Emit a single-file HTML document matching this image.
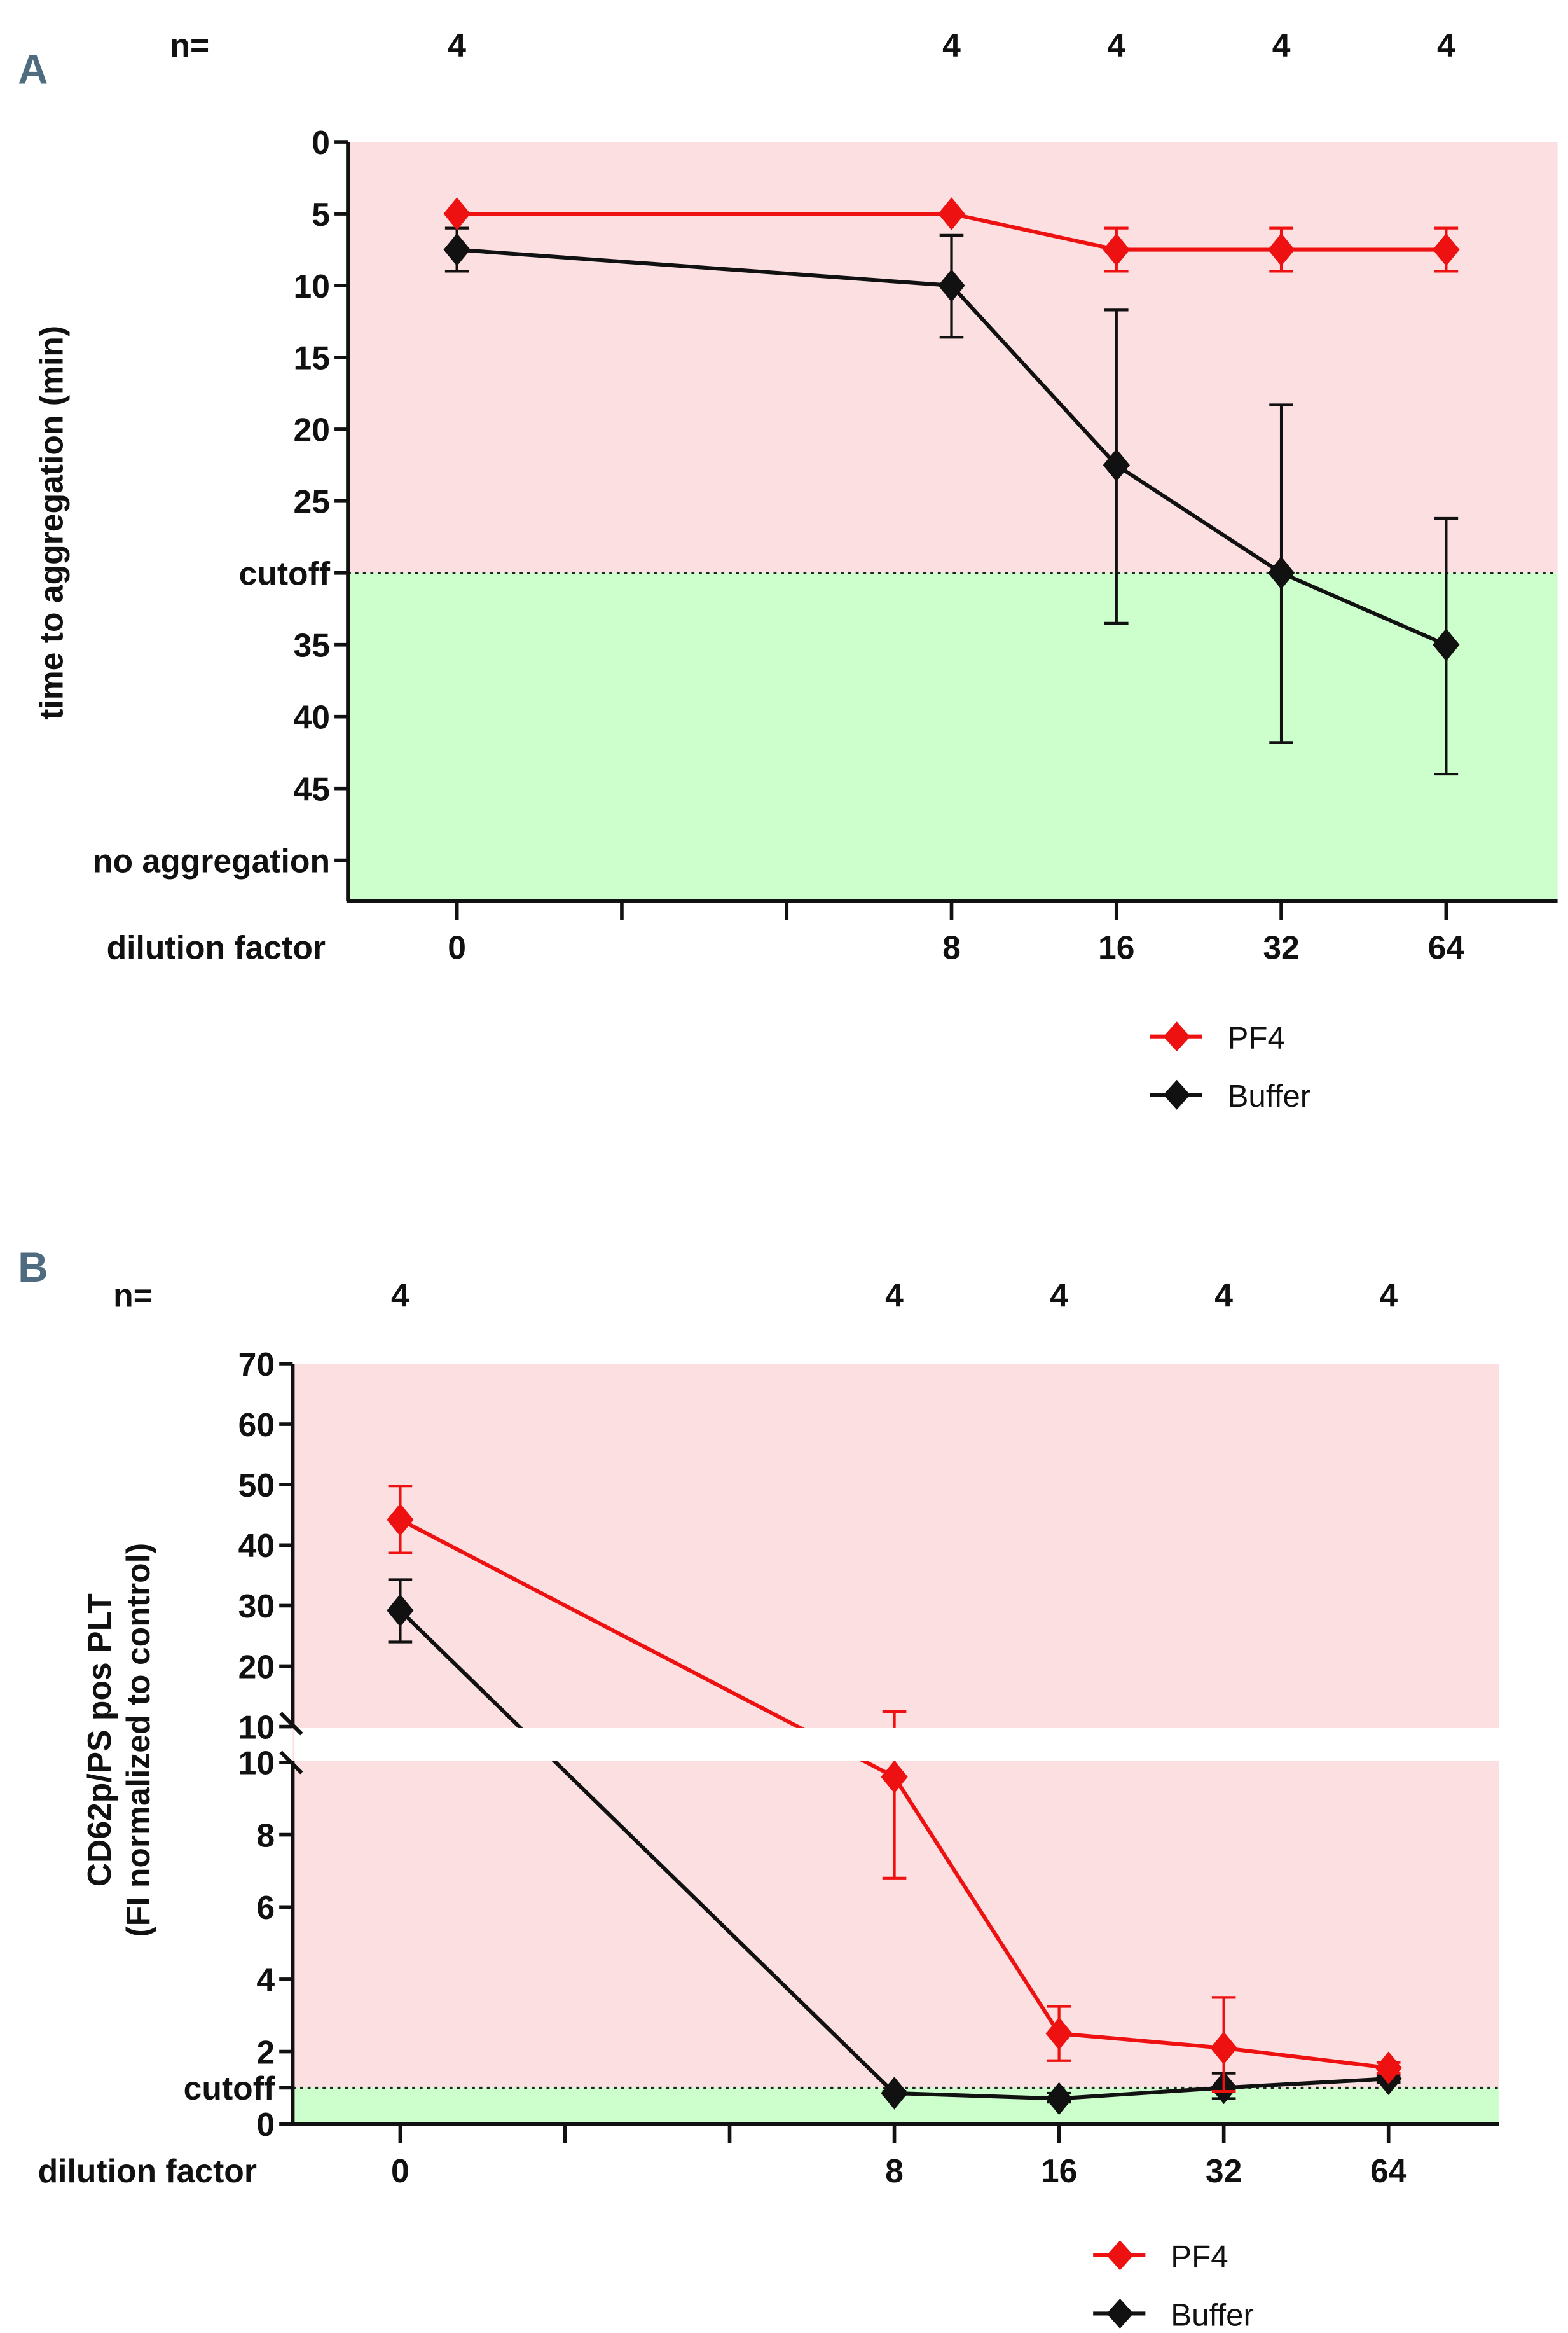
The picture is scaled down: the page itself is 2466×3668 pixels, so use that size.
<!DOCTYPE html>
<html><head><meta charset="utf-8">
<style>
html,body{margin:0;padding:0;background:#fff;}
svg{display:block;}
text{font-family:"Liberation Sans Narrow","Liberation Sans",sans-serif;}
.t{font-weight:bold;font-size:22px;fill:#111;}
.lg{font-family:"Liberation Sans",sans-serif;font-size:21px;fill:#111;}
</style></head>
<body>
<svg id="fig" width="2466" height="3668" viewBox="0 0 1050 1562" preserveAspectRatio="none" xmlns="http://www.w3.org/2000/svg">
  <text x="12" y="56" style="font-size:28px;font-weight:bold;fill:#4f6b80">A</text>
  <text x="12" y="858" style="font-size:28px;font-weight:bold;fill:#4f6b80">B</text>
  <text class="t" x="42" y="350" transform="rotate(-90 42 350)" text-anchor="middle" style="font-family:'Liberation Sans',sans-serif;font-size:22px">time to aggregation (min)</text>
  <text class="t" x="74" y="1165" transform="rotate(-90 74 1165)" text-anchor="middle" style="font-family:'Liberation Sans',sans-serif;font-size:22px">CD62p/PS pos PLT</text>
  <text class="t" x="100" y="1165" transform="rotate(-90 100 1165)" text-anchor="middle" style="font-family:'Liberation Sans',sans-serif;font-size:22px">(FI normalized to control)</text>
</svg>
<script>
const catLabels = ["0", "", "", "8", "16", "32", "64"];
const dataIdx = [0, 3, 4, 5, 6];
const nValues = ["4", "4", "4", "4", "4"];
// Panel A
const aPF4 = [5, 5, 7.5, 7.5, 7.5];
const aPF4Lo = [5, 5, 6, 6, 6];
const aPF4Hi = [5, 5, 9, 9, 9];
const aBuf = [7.5, 10, 22.5, 30, 35];
const aBufLo = [6, 6.5, 11.7, 18.3, 26.2];
const aBufHi = [9, 13.6, 33.5, 41.8, 44];
const aTicks = [0, 5, 10, 15, 20, 25, 30, 35, 40, 45, 50];
const aTickLabels = ["0", "5", "10", "15", "20", "25", "cutoff", "35", "40", "45", "no aggregation"];
const aCutoff = 30;
// Panel B
const bPF4 = [44.2, 9.6, 2.5, 2.1, 1.55];
const bPF4Lo = [38.7, 6.8, 1.75, 0.9, 1.4];
const bPF4Hi = [49.8, 12.5, 3.25, 3.5, 1.7];
const bBuf = [29.2, 0.85, 0.7, 1.0, 1.25];
const bBufLo = [24, 0.8, 0.6, 0.7, 1.15];
const bBufHi = [34.3, 0.9, 0.85, 1.4, 1.35];
const bTicksUpper = [10, 20, 30, 40, 50, 60, 70];
const bTicksLower = [0, 2, 4, 6, 8, 10];
const bCutoff = 1;

const NS = "http://www.w3.org/2000/svg";
const svg = document.getElementById("fig");
function mk(tag, attrs, parent) {
  const e = document.createElementNS(NS, tag);
  for (const k in attrs) e.setAttribute(k, attrs[k]);
  (parent || svg).appendChild(e);
  return e;
}
const RED = "#ee1111", BLK = "#111";

function drawPanel(p) {
  const g = mk("g", {});
  
  
  const pink = mk("rect", {x: p.x0, y: p.yTop, width: p.x1 - p.x0, height: p.ySc(p.cutoff) - p.yTop, fill: "#fcdfe0"}, g);
  
  
  const green = mk("rect", {x: p.x0, y: p.ySc(p.cutoff), width: p.x1 - p.x0, height: p.yBot - p.ySc(p.cutoff), fill: "#ccffcc"}, g);
  
  
  const cut = mk("line", {x1: p.x0, x2: p.x1, y1: p.ySc(p.cutoff), y2: p.ySc(p.cutoff), stroke: "#222", "stroke-width": 1.3, "stroke-dasharray": "2,3"}, g);
  
  
  const series = [
    {n: "buffer", v: p.buf, lo: p.bufLo, hi: p.bufHi, c: BLK},
    {n: "pf4", v: p.pf4, lo: p.pf4Lo, hi: p.pf4Hi, c: RED}
  ];
  series.forEach(s => {
    const pts = s.v.map((v, i) => p.xSc(dataIdx[i]) + "," + p.ySc(v)).join(" ");
    const pl = mk("polyline", {points: pts, fill: "none", stroke: s.c, "stroke-width": 2.6}, g);
    
    
    s.v.forEach((v, i) => {
      const cx = p.xSc(dataIdx[i]);
      if (s.hi[i] !== s.lo[i]) {
        const eb = mk("path", {d: `M${cx},${p.ySc(s.lo[i])}V${p.ySc(s.hi[i])}M${cx-8},${p.ySc(s.lo[i])}h16M${cx-8},${p.ySc(s.hi[i])}h16`, stroke: s.c, "stroke-width": 1.8, fill: "none"}, g);
        
        
      }
      const cy = p.ySc(v);
      const m = mk("path", {d: `M${cx},${cy-11}L${cx+9},${cy}L${cx},${cy+11}L${cx-9},${cy}Z`, fill: s.c}, g);
      
      
    });
  });
  if (p.gap) {
    const gp = mk("rect", {x: p.x0 + 1, y: p.gap[0], width: p.x1 - p.x0, height: p.gap[1] - p.gap[0], fill: "#fff"}, g);
    
    
  }
  const yax = mk("path", {d: p.gap ? `M${p.x0},${p.yTop}V${p.gap[0]}M${p.x0},${p.gap[1]}V${p.yBot}` : `M${p.x0},${p.yTop}V${p.yBot}`, stroke: BLK, "stroke-width": 2.6, fill: "none"}, g);
  
  
  if (p.gap) {
    const br = mk("path", {d: `M${p.x0-8},${p.gap[0]-10}L${p.x0+6},${p.gap[0]+4}M${p.x0-8},${p.gap[1]-6}L${p.x0+6},${p.gap[1]+8}`, stroke: BLK, "stroke-width": 2.6}, g);
    
    
  }
  const xax = mk("line", {x1: p.x0 - 1, x2: p.x1, y1: p.yBot, y2: p.yBot, stroke: BLK, "stroke-width": 2.6}, g);
  
  
  p.yTicks.forEach((t) => {
    const y = t.y;
    const tk = mk("line", {x1: p.x0 - 9, x2: p.x0, y1: y, y2: y, stroke: BLK, "stroke-width": 2.4}, g);
    
    
    const tl = mk("text", {x: p.x0 - 12, y: y + 8, "text-anchor": "end", class: "t"}, g);
    tl.textContent = t.label;
    
    
  });
  catLabels.forEach((c, i) => {
    const x = p.xSc(i);
    const tk = mk("line", {x1: x, x2: x, y1: p.yBot, y2: p.yBot + 13, stroke: BLK, "stroke-width": 2.4}, g);
    
    
    if (c) {
      const tl = mk("text", {x: x, y: p.yBot + 39, "text-anchor": "middle", class: "t"}, g);
      tl.textContent = c;
      
      
    }
  });
  const xt = mk("text", {x: p.xTitleX, y: p.yBot + 39, "text-anchor": "end", class: "t"}, g);
  xt.textContent = "dilution factor";
  
  
  const nl = mk("text", {x: p.nX, y: p.nY, "text-anchor": "middle", class: "t"}, g);
  nl.textContent = "n=";
  
  
  nValues.forEach((n, i) => {
    const t = mk("text", {x: p.xSc(dataIdx[i]), y: p.nY, "text-anchor": "middle", class: "t"}, g);
    t.textContent = n;
    
    
  });
  [["PF4", RED, 0], ["Buffer", BLK, 39]].forEach(([lbl, c, dy]) => {
    const y = p.legY + dy, x = p.legX;
    const ln = mk("line", {x1: x - 18, x2: x + 17, y1: y, y2: y, stroke: c, "stroke-width": 2.6}, g);
    
    
    const mkr = mk("path", {d: `M${x},${y-10}L${x+9},${y}L${x},${y+10}L${x-9},${y}Z`, fill: c}, g);
    
    
    const tx = mk("text", {x: x + 34, y: y + 8, class: "lg"}, g);
    tx.textContent = lbl;
    
    
  });
}

const aY = v => 95 + v * 9.62;
drawPanel({
  name: "panel-a-chart", x0: 233, x1: 1043, yTop: 95, yBot: 603,
  xSc: i => 306 + i * 110.4, ySc: aY, cutoff: aCutoff,
  pf4: aPF4, pf4Lo: aPF4Lo, pf4Hi: aPF4Hi, buf: aBuf, bufLo: aBufLo, bufHi: aBufHi,
  yTicks: aTicks.map((t, i) => ({y: aY(t), label: aTickLabels[i]})),
  xTitleX: 218, nX: 127, nY: 38, legX: 788, legY: 694
});
const bY = v => v >= 10 ? 1156 - (v - 10) * 4.05 : 1422 - v * 24.2;
drawPanel({
  name: "panel-b-chart", x0: 196, x1: 1004, yTop: 913, yBot: 1422,
  xSc: i => 268 + i * 110.3, ySc: bY, cutoff: bCutoff, gap: [1157, 1179],
  pf4: bPF4, pf4Lo: bPF4Lo, pf4Hi: bPF4Hi, buf: bBuf, bufLo: bBufLo, bufHi: bBufHi,
  yTicks: bTicksUpper.map(t => ({y: bY(t === 10 ? 10.001 : t), label: String(t)}))
    .concat(bTicksLower.map(t => ({y: t === 10 ? 1180 : bY(t), label: String(t)})))
    .concat([{y: bY(bCutoff), label: "cutoff"}]),
  xTitleX: 172, nX: 89, nY: 875, legX: 750, legY: 1510
});
</script>
</body></html>
